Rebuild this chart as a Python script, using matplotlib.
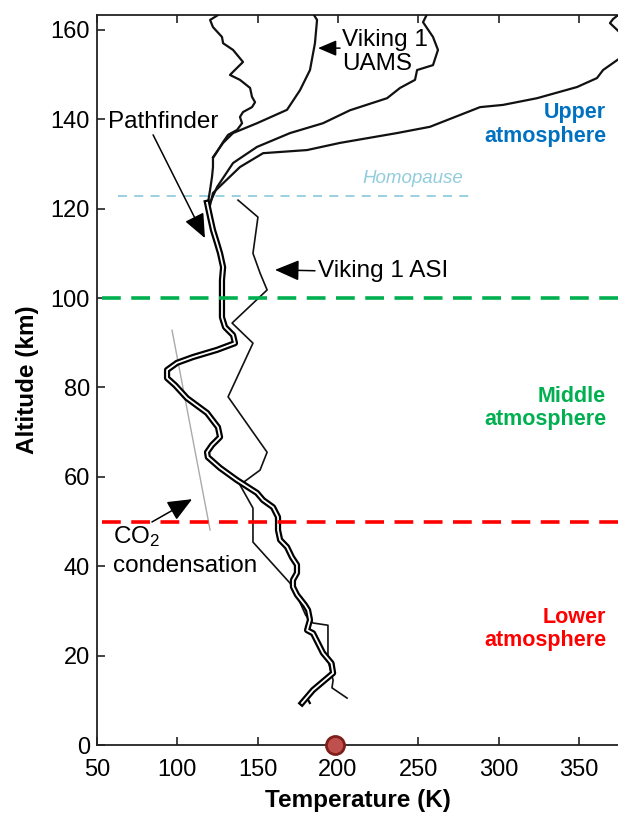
import matplotlib
matplotlib.use('Agg')
import matplotlib.pyplot as plt

plt.rcParams['font.family'] = ['Liberation Sans', 'DejaVu Sans']
plt.rcParams['mathtext.default'] = 'regular'

# Pathfinder profile, surface to homopause (K, km)
pf_T = [177.6, 184.5, 197.0, 196.0, 190.7, 184.5, 180.8, 182.6, 181.4, 179.5,
        174.5, 172.0, 172.0, 174.5, 174.5, 171.4, 168.3, 164.0, 162.7, 162.7,
        159.6, 153.4, 149.6, 137.0, 126.6, 119.0, 118.5, 121.6, 126.6, 125.3,
        118.5, 106.0, 98.6, 93.6, 93.6, 99.8, 109.8, 124.7, 135.9, 134.7,
        129.7, 127.8, 127.8, 127.8, 128.5, 126.6, 124.7, 122.2, 120.4, 118.5]
pf_alt = [9.4, 12.3, 16.1, 18.3, 20.6, 25.0, 25.7, 28.0, 30.2, 31.3,
          33.6, 35.4, 36.9, 38.5, 40.3, 42.0, 44.3, 45.9, 48.1, 51.0,
          53.2, 54.8, 56.4, 59.3, 62.0, 64.4, 65.5, 67.1, 68.9, 71.1,
          74.3, 77.6, 80.5, 82.1, 83.9, 85.5, 86.8, 88.4, 89.9, 91.7,
          93.5, 95.7, 100.2, 104.0, 106.9, 110.0, 112.3, 115.2, 118.1, 121.3]
pf_tail_T = [184.5, 181.0, 182.5]
pf_tail_alt = [12.3, 10.4, 9.4]

# upper atmosphere profiles above the homopause
wavy_T = [119.1, 120.4, 121.6, 122.2, 122.2, 124.7, 128.5, 131.6, 137.2, 140.3,
          139.0, 140.9, 146.5, 148.4, 146.5, 145.3, 139.0, 132.8, 134.7, 140.9,
          134.7, 128.5, 127.8, 122.2, 120.4, 125.3]
wavy_alt = [121.3, 124.2, 127.1, 129.3, 131.3, 132.7, 134.9, 136.5, 137.6, 139.1,
            140.5, 141.6, 142.7, 143.8, 145.0, 147.0, 148.8, 149.9, 150.6, 152.8,
            155.5, 157.0, 158.4, 160.6, 162.2, 163.3]
uams_T = [122.2, 128.5, 134.7, 149.6, 168.3, 176.4, 182.6, 185.7, 187.0, 183.9]
uams_alt = [131.5, 134.7, 136.9, 139.1, 142.1, 146.5, 151.0, 157.0, 162.2, 164.0]
mid_T = [120.4, 124.7, 134.7, 149.6, 170.2, 190.7, 207.5, 230.6, 238.7, 248.0,
         249.3, 259.2, 262.3, 259.2, 253.0, 255.5]
mid_alt = [121.3, 124.8, 130.2, 133.8, 136.9, 139.1, 142.0, 144.7, 147.0, 148.8,
           151.0, 152.1, 155.5, 158.4, 161.7, 163.5]
hot_T = [120.4, 122.2, 139.0, 153.4, 180.8, 201.3, 236.8, 257.3, 288.5, 302.8,
         324.0, 348.9, 361.3, 365.1, 373.8, 385.0]
hot_alt = [120.8, 123.5, 129.3, 132.4, 133.1, 134.7, 136.9, 138.3, 142.7, 143.2,
           144.7, 147.2, 149.2, 151.0, 153.2, 156.0]
hot_top_T = [377.0, 371.3, 369.4, 373.8, 378.0]
hot_top_alt = [164.0, 162.4, 161.5, 160.0, 158.5]

# Viking 1 ASI entry profile
asi_T = [137.8, 150.2, 147.1, 151.5, 155.9, 134.1, 147.1, 131.6, 155.9, 151.5,
         139.0, 147.1, 147.1, 170.2, 175.0, 180.0, 184.5, 193.8, 193.8, 197.0,
         196.3, 205.7]
asi_alt = [121.9, 118.1, 110.0, 105.6, 101.8, 94.4, 89.9, 77.9, 65.5, 61.5,
           58.2, 53.0, 45.4, 36.2, 33.0, 29.0, 27.3, 26.8, 19.0, 14.5,
           12.8, 10.5]

# CO2 condensation temperature
co2_T = [96.7, 120.4]
co2_alt = [92.8, 48.1]

homopause_alt = 122.8
layer_bounds = [100, 50]
layer_colors = ['#00b050', '#ff0000']
layer_names = ['Upper\natmosphere', 'Middle\natmosphere', 'Lower\natmosphere']
layer_label_alt = [138.8, 75.4, 26.0]
layer_label_colors = ['#0070c0', '#00b050', '#ff0000']
surface_T = 198

fig = plt.figure(figsize=(6.18, 8.18), dpi=100)
ax = fig.add_axes([0.157, 0.0892, 0.843, 0.8924])

# profiles
ax.plot(pf_T, pf_alt, color='black', lw=4.5, solid_joinstyle='round', zorder=4)
ax.plot(pf_T, pf_alt, color='white', lw=1.3, solid_joinstyle='round', zorder=5)
ax.plot(pf_tail_T, pf_tail_alt, color='black', lw=1.6, zorder=4)
for t, a in [(wavy_T, wavy_alt), (uams_T, uams_alt), (mid_T, mid_alt),
             (hot_T, hot_alt), (hot_top_T, hot_top_alt)]:
    ax.plot(t, a, color='#111111', lw=1.6, zorder=3)
ax.plot(asi_T, asi_alt, color='#111111', lw=1.2, zorder=3)
ax.plot(co2_T, co2_alt, color='#aaaaaa', lw=1.0, zorder=2)

# layer boundaries
ax.hlines(homopause_alt, 63, 285, colors='#92cddc', lw=1.3,
          linestyles=(0, (5, 4)), zorder=1)
ax.text(246.8, 126.8, 'Homopause', color='#92cddc', style='italic',
        fontsize=13.5, ha='center', va='center')
for b, c in zip(layer_bounds, layer_colors):
    ax.axhline(b, xmin=0.01, xmax=1.0, color=c, lw=2.6,
               linestyle=(0, (5.2, 2.9)), zorder=6)
for name, a, c in zip(layer_names, layer_label_alt, layer_label_colors):
    ax.text(367, a, name, color=c, fontsize=15.5, fontweight='bold',
            ha='right', va='center', multialignment='right', linespacing=1.15)

# annotations
arrow = dict(arrowstyle='-|>,head_length=0.75,head_width=0.32', color='black',
             lw=1.1, mutation_scale=20, shrinkA=0, shrinkB=0)
ax.text(56.8, 139.4, 'Pathfinder', fontsize=17.5, ha='left', va='center')
ax.annotate('', xy=(117.2, 113.4), xytext=(84.9, 136.5), arrowprops=arrow)
ax.text(187.6, 106.0, 'Viking 1 ASI', fontsize=17.5, ha='left', va='center')
ax.annotate('', xy=(160.8, 106.3), xytext=(185.7, 106.1), arrowprops=arrow)
ax.text(202.6, 155.0, 'Viking 1\nUAMS', fontsize=17.5, ha='left', va='center',
        linespacing=1.1)
ax.annotate('', xy=(187.6, 155.9), xytext=(201.3, 155.9),
            arrowprops=dict(arrow, mutation_scale=15))
ax.text(60, 45.2, 'CO$_2$', fontsize=17.5, ha='left', va='baseline')
ax.text(60, 38.7, 'condensation', fontsize=17.5, ha='left', va='baseline')
ax.annotate('', xy=(109.2, 55.0), xytext=(84.2, 49.9), arrowprops=arrow)

# surface temperature
ax.plot([surface_T], [0], 'o', ms=13, mfc='#c0504d', mec='#7f1f1c', mew=2,
        clip_on=False, zorder=10)

ax.set_xlim(50, 374.4)
ax.set_ylim(0, 163.3)
ax.set_xticks(range(50, 351, 50))
ax.set_yticks(range(0, 161, 20))
ax.spines['right'].set_visible(False)
for s in ['left', 'top', 'bottom']:
    ax.spines[s].set_linewidth(1.3)
    ax.spines[s].set_color('#222222')
ax.tick_params(direction='in', length=6, width=1.2, color='#222222',
               labelsize=17, top=True, right=False)
ax.tick_params(axis='x', pad=10)
ax.tick_params(axis='y', pad=5)
ax.set_xlabel('Temperature (K)', fontsize=17.5, fontweight='bold', labelpad=6)
ax.set_ylabel('Altitude (km)', fontsize=17.5, fontweight='bold', labelpad=8)

fig.savefig('out.png', dpi=100)
